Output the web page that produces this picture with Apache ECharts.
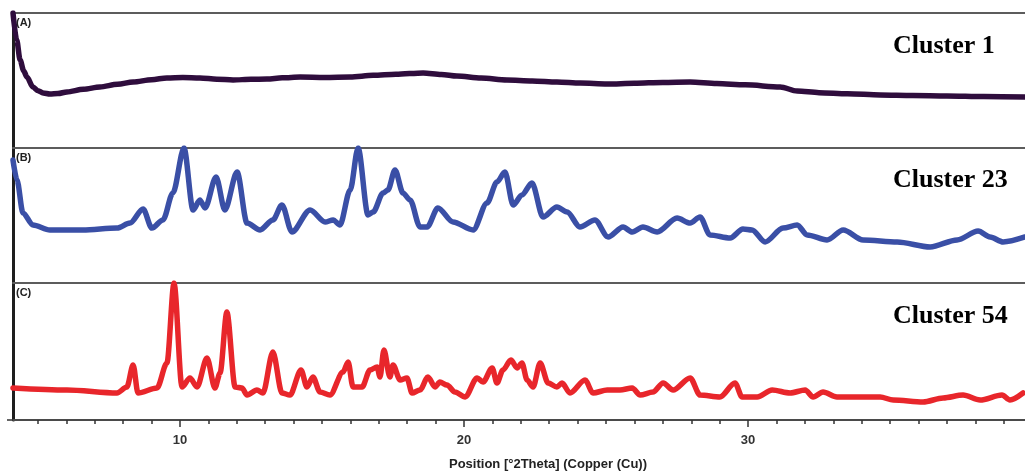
<!DOCTYPE html>
<html>
<head>
<meta charset="utf-8">
<script src="https://cdn.jsdelivr.net/npm/echarts@6/dist/echarts.min.js"></script>
<style>
  html, body { margin: 0; padding: 0; background: #fff; }
  #main { width: 1025px; height: 473px; }
</style>
</head>
<body>
<div id="main"></div>
<script>
"use strict";

// (A) Cluster 1 - amorphous halo
var twoThetaA = [4.12, 4.25, 4.37, 4.5, 4.61, 4.82, 5.0, 5.18, 5.42, 5.7, 6.02, 6.6, 7.18, 7.8, 8.35, 9.0, 9.54, 10.1, 10.7, 11.3, 11.87, 12.5, 13.06, 13.6, 14.23, 15.1, 15.99, 16.8, 17.6, 18.56, 19.2, 19.75, 20.6, 21.51, 22.4, 23.27, 24.1, 25.04, 26.0, 27.0, 27.96, 28.9, 29.9, 31.13, 31.73, 32.5, 33.5, 34.65, 35.8, 37.0, 38.3, 39.75];
var intensityA = [100, 80, 65.2, 57, 52.6, 45.2, 42.5, 40.7, 40, 40.3, 41.5, 43.5, 45.2, 47.2, 48.9, 50.6, 51.9, 52.3, 51.9, 51, 50.4, 50.9, 51.1, 52, 52.6, 52.3, 52.6, 53.8, 54.6, 55.6, 54.5, 53.3, 51.8, 50.4, 49.7, 48.9, 48.1, 47.4, 47.9, 48.6, 48.9, 47.8, 46.8, 45.2, 42.2, 41, 40.2, 39.3, 38.9, 38.6, 38.1, 37.8];

// (B) Cluster 23
var twoThetaB = [4.12, 4.26, 4.47, 4.82, 5.42, 6.58, 7.78, 8.24, 8.7, 9.01, 9.4, 9.75, 10.14, 10.46, 10.7, 10.88, 11.27, 11.58, 12.01, 12.36, 12.82, 13.27, 13.59, 13.94, 14.58, 15.11, 15.39, 15.63, 15.99, 16.27, 16.62, 16.8, 17.15, 17.32, 17.57, 17.85, 18.1, 18.45, 18.7, 19.08, 19.61, 20.32, 20.81, 21.16, 21.44, 21.73, 22.04, 22.39, 22.78, 23.27, 23.63, 24.08, 24.61, 25.07, 25.6, 25.92, 26.3, 26.8, 27.5, 27.96, 28.31, 28.66, 29.37, 29.82, 30.14, 30.6, 31.23, 31.73, 32.08, 32.78, 33.35, 34.05, 35.25, 36.41, 37.36, 38.1, 38.52, 38.98, 39.75];
var intensityB = [91.1, 76.3, 51.9, 43, 39.3, 39.3, 40.7, 44.4, 54.8, 40.7, 46.7, 66.7, 100, 54.1, 61.5, 55.6, 78.5, 54.1, 82.2, 44.4, 39.3, 46.7, 57.8, 37.8, 54.1, 45.2, 46.7, 43, 68.9, 100, 50.4, 52.6, 66.7, 68.9, 83.7, 66.7, 61.5, 41.5, 41.5, 55.6, 45.2, 39.3, 59.3, 74.8, 82.2, 57.8, 65.2, 74.1, 48.9, 56.3, 52.6, 41.5, 46.7, 34.1, 41.5, 37.8, 41.5, 37.8, 48.1, 44.4, 48.9, 35.6, 33.3, 40, 39.3, 30.4, 40.7, 43, 35.6, 31.9, 39.3, 31.9, 30.4, 26.7, 31.9, 38.5, 34.1, 30.4, 34.1];

// (C) Cluster 54
var twoThetaC = [4.12, 6.02, 7.78, 8.13, 8.35, 8.52, 9.19, 9.54, 9.79, 10.07, 10.35, 10.6, 10.95, 11.23, 11.41, 11.65, 11.94, 12.18, 12.36, 12.71, 12.92, 13.27, 13.59, 13.87, 14.26, 14.47, 14.68, 14.93, 15.28, 15.74, 15.92, 16.09, 16.41, 16.69, 16.94, 17.04, 17.18, 17.39, 17.5, 17.75, 17.99, 18.17, 18.45, 18.73, 18.98, 19.15, 19.4, 19.68, 20.04, 20.46, 20.67, 20.99, 21.16, 21.37, 21.65, 21.87, 22.04, 22.22, 22.43, 22.68, 22.96, 23.27, 23.45, 23.73, 24.26, 24.54, 25.04, 25.49, 25.92, 26.2, 26.65, 27.01, 27.36, 27.96, 28.31, 29.01, 29.54, 29.79, 30.32, 30.85, 31.48, 32.01, 32.29, 32.64, 33.13, 34.05, 34.65, 35.11, 36.16, 36.87, 37.57, 38.17, 38.94, 39.22, 39.68];
var intensityC = [23.4, 21.9, 19.7, 24.1, 40.1, 19.7, 23.4, 41.6, 100, 24.1, 30.7, 24.1, 45.3, 23.4, 34.3, 78.8, 24.1, 23.4, 18.2, 21.9, 19.7, 49.6, 19.7, 18.2, 36.5, 24.1, 31.4, 20.4, 18.2, 35, 42.3, 24.1, 24.1, 36.5, 38.7, 31.4, 51.1, 31.4, 40.1, 29.2, 30.7, 19.7, 21.9, 31.4, 24.1, 27.7, 25.5, 20.4, 16.8, 30.7, 27.7, 38, 27, 36.5, 43.8, 38, 41.6, 29.2, 24.1, 41.6, 27, 24.1, 27, 19.7, 29.2, 19.7, 21.9, 21.9, 23.4, 18.2, 20.4, 27, 21.9, 30.7, 18.2, 16.8, 27, 16.8, 16.8, 21.9, 19.7, 21.9, 16.8, 20.4, 16.8, 16.8, 16.8, 14.6, 13.1, 16.1, 18.2, 14.6, 18.2, 14.6, 19.7];

var panelLabels = ['(A)', '(B)', '(C)'];
var clusterNames = ['Cluster 1', 'Cluster 23', 'Cluster 54'];
var lineColors = ['#2f0d3d', '#3a4fa6', '#e8262b'];
var majorTicks = [10, 20, 30];
var minorTicks = [5, 6, 7, 8, 9, 11, 12, 13, 14, 15, 16, 17, 18, 19, 21, 22, 23, 24, 25, 26, 27, 28, 29, 31, 32, 33, 34, 35, 36, 37, 38, 39];
var xMin = 4.12, xMax = 39.75;

function zip(xs, ys) {
  return xs.map(function (x, i) {
    return [x, ys[i]];
  });
}

var myChart = echarts.init(document.getElementById('main'));

var grids = [
  {left: 13, right: 0, top: 13, height: 135},
  {left: 13, right: 0, top: 148, height: 135},
  {left: 13, right: 0, top: 283, height: 137}
];

var frameLine = {show: true, onZero: false, lineStyle: {color: '#5c5c5c', width: 2}};

var xAxes = grids.map(function (g, i) {
  return {
    type: 'value', gridIndex: i, min: xMin, max: xMax, position: 'top',
    axisLine: frameLine, axisTick: {show: false}, axisLabel: {show: false},
    splitLine: {show: false}
  };
});
// bottom axis with labels and major ticks
xAxes.push({
  type: 'value', gridIndex: 2, min: xMin, max: xMax, position: 'bottom',
  axisLine: {show: true, onZero: false, lineStyle: {color: '#4a4a4a', width: 2}},
  axisTick: {show: true, customValues: majorTicks, length: 7, lineStyle: {color: '#333', width: 1.5}},
  axisLabel: {show: true, customValues: majorTicks, margin: 14, color: '#333',
    fontFamily: 'Liberation Sans, Arial', fontWeight: 'bold', fontSize: 13},
  splitLine: {show: false}
});
// minor ticks
xAxes.push({
  type: 'value', gridIndex: 2, min: xMin, max: xMax, position: 'bottom',
  axisLine: {show: false, onZero: false},
  axisTick: {show: true, customValues: minorTicks, length: 4, lineStyle: {color: '#333', width: 1.5}},
  axisLabel: {show: false},
  splitLine: {show: false}
});

var yAxes = grids.map(function (g, i) {
  return {
    type: 'value', gridIndex: i, min: 0, max: 100,
    axisLine: {show: true, lineStyle: {color: '#1e1e1e', width: 3}},
    axisTick: {show: i === 2, customValues: [0], length: 6, lineStyle: {color: '#333', width: 1.5}},
    axisLabel: {show: false},
    splitLine: {show: false}
  };
});

var dataSets = [zip(twoThetaA, intensityA), zip(twoThetaB, intensityB), zip(twoThetaC, intensityC)];

var series = dataSets.map(function (d, i) {
  return {
    type: 'line', name: clusterNames[i], xAxisIndex: i, yAxisIndex: i,
    data: d, showSymbol: false, smooth: 0.3, smoothMonotone: 'x',
    lineStyle: {color: lineColors[i], width: 5.5, join: 'round', cap: 'round'},
    clip: true, animation: false
  };
});

var clusterTops = [33, 167, 303];
var titles = [];
panelLabels.forEach(function (t, i) {
  titles.push({
    text: t, left: 16, top: grids[i].top + 4, padding: 0,
    textStyle: {fontFamily: 'Liberation Sans, Arial', fontWeight: 'bold', fontSize: 11, color: '#222'}
  });
  titles.push({
    text: clusterNames[i], left: 893, top: clusterTops[i], padding: 0,
    textStyle: {fontFamily: 'Liberation Serif, serif', fontWeight: 'bold', fontSize: 26, color: '#000'}
  });
});
titles.push({
  text: 'Position [°2Theta] (Copper (Cu))', left: 548, textAlign: 'center', top: 458, padding: 0,
  textStyle: {fontFamily: 'Liberation Sans, Arial', fontWeight: 'bold', fontSize: 13, color: '#222'}
});

var option = {
  backgroundColor: '#fff',
  animation: false,
  title: titles,
  grid: grids,
  xAxis: xAxes,
  yAxis: yAxes,
  series: series
};
myChart.setOption(option, true);
</script>
</body>
</html>
